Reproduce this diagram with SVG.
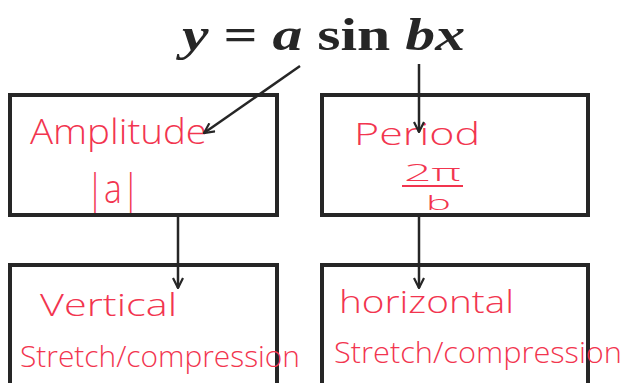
<svg xmlns="http://www.w3.org/2000/svg" width="624" height="383" viewBox="0 0 624 383">
<style>
.box{fill:#fff;stroke:#262626;stroke-width:4}
.hw{font-family:"Open Sans","DejaVu Sans",sans-serif;font-weight:300;fill:#f2354f}
.eq{font-family:"Liberation Serif",serif;font-weight:bold;fill:#262626;font-size:47px}
.conn line{stroke:#262626;stroke-width:2.5;fill:none}
</style>
<defs>
<marker id="arr" viewBox="0 0 12 12" refX="11" refY="6" markerWidth="12" markerHeight="12" markerUnits="userSpaceOnUse" orient="auto">
<path d="M1,1 L11,6 L1,11" fill="none" stroke="#262626" stroke-width="2.2"/>
</marker>
</defs>
<rect width="624" height="383" fill="#fff"/>
<g id="equation">
<text class="eq" x="182" y="50" textLength="283" lengthAdjust="spacingAndGlyphs"><tspan font-style="italic">y</tspan> = <tspan font-style="italic">a</tspan> sin <tspan font-style="italic">bx</tspan></text>
</g>
<g id="amplitude">
<rect class="box" x="10" y="95" width="267" height="120"/>
<text class="hw" x="30" y="144" font-size="35" textLength="177" lengthAdjust="spacingAndGlyphs">Amplitude</text>
<text class="hw" x="86" y="203" font-size="40" textLength="54" lengthAdjust="spacingAndGlyphs">|a|</text>
</g>
<g id="period">
<rect class="box" x="322" y="95" width="266" height="120"/>
<text class="hw" x="354" y="145" font-size="32" textLength="126" lengthAdjust="spacingAndGlyphs">Period</text>
<text class="hw" x="404" y="181" font-size="23" textLength="57" lengthAdjust="spacingAndGlyphs">2π</text>
<line x1="402" y1="186" x2="463" y2="186" stroke="#f2354f" stroke-width="2"/>
<text class="hw" x="426" y="210" font-size="21" textLength="25" lengthAdjust="spacingAndGlyphs">b</text>
</g>
<g id="vertical">
<rect class="box" x="10" y="265" width="267" height="140"/>
<text class="hw" x="40" y="316" font-size="32" textLength="137" lengthAdjust="spacingAndGlyphs">Vertical</text>
<text class="hw" x="20" y="367" font-size="30" textLength="280" lengthAdjust="spacingAndGlyphs">Stretch/compression</text>
</g>
<g id="horizontal">
<rect class="box" x="322" y="265" width="266" height="140"/>
<text class="hw" x="339" y="313" font-size="32" textLength="175" lengthAdjust="spacingAndGlyphs">horizontal</text>
<text class="hw" x="334" y="363" font-size="30" textLength="288" lengthAdjust="spacingAndGlyphs">Stretch/compression</text>
</g>
<g class="conn" id="connectors">
<line x1="300" y1="66" x2="204" y2="133" marker-end="url(#arr)"/>
<line x1="419" y1="64" x2="419" y2="132" marker-end="url(#arr)"/>
<line x1="178" y1="215" x2="178" y2="288" marker-end="url(#arr)"/>
<line x1="419" y1="215" x2="419" y2="288" marker-end="url(#arr)"/>
</g>
</svg>
